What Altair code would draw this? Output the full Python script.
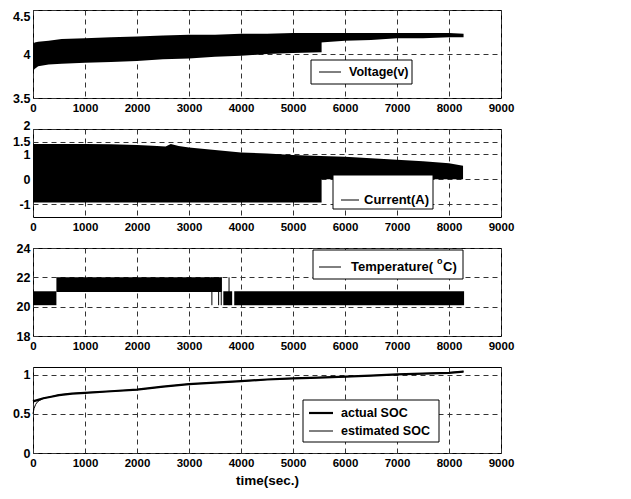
import altair as alt
import pandas as pd

# ---------------- data ----------------
# Voltage envelope (dense oscillation drawn as a band)
v_x1 = [0, 30, 100, 300, 550, 1000, 1500, 2000, 2500, 3000, 3500, 4000, 4500, 5000, 5550]
v_hi1 = [4.10, 4.13, 4.14, 4.15, 4.17, 4.18, 4.19, 4.20, 4.21, 4.22, 4.22, 4.23, 4.23, 4.24, 4.24]
v_lo1 = [3.80, 3.83, 3.86, 3.88, 3.89, 3.90, 3.91, 3.92, 3.94, 3.95, 3.97, 3.98, 4.00, 4.01, 4.02]
v_x2 = [5530, 6000, 6500, 7000, 7500, 8000, 8280]
v_hi2 = [4.24, 4.24, 4.24, 4.24, 4.24, 4.24, 4.23]
v_lo2 = [4.13, 4.15, 4.16, 4.18, 4.18, 4.19, 4.19]

# Current envelope
c_x1 = [0, 500, 1000, 1500, 2000, 2300, 2550, 2650, 2800, 3000, 3500, 4000, 4500, 5000, 5550]
c_hi1 = [1.40, 1.40, 1.40, 1.39, 1.36, 1.33, 1.30, 1.40, 1.32, 1.26, 1.16, 1.07, 1.03, 0.97, 0.93]
c_lo1 = [-0.92, -0.92, -0.92, -0.92, -0.92, -0.92, -0.92, -0.92, -0.92, -0.92, -0.92, -0.92, -0.92, -0.92, -0.92]
c_x2 = [5530, 6000, 6500, 7000, 7500, 8000, 8270]
c_hi2 = [0.93, 0.90, 0.84, 0.78, 0.72, 0.64, 0.54]
c_lo2 = [0, 0, 0, 0, 0, 0, 0]

# Temperature bands (switching between levels) and isolated spikes
t_start = [0, 450, 3660, 3870]
t_end = [450, 3630, 3830, 8290]
t_lo = [20.1, 21.0, 20.1, 20.1]
t_hi = [21.05, 22.0, 21.05, 21.05]
t_spike_x = [3440, 3570, 3620, 3770]
t_spike_lo = [20.1, 20.1, 20.1, 20.1]
t_spike_hi = [22.0, 22.0, 22.0, 22.0]

# SOC
soc_x = [0, 100, 200, 350, 500, 750, 1000, 1500, 2000, 2500, 3000, 3500, 4000,
         4500, 5000, 5500, 6000, 6500, 7000, 7500, 8000, 8280]
soc_actual = [0.66, 0.68, 0.70, 0.72, 0.74, 0.76, 0.77, 0.79, 0.81, 0.85, 0.88, 0.90, 0.92,
              0.94, 0.955, 0.965, 0.978, 0.99, 1.005, 1.015, 1.025, 1.04]
est_x = [0, 20, 50, 80, 120, 200, 350, 500, 750, 1000, 1500, 2000, 2500, 3000, 3500,
         4000, 4500, 5000, 5500, 6000, 6500, 7000, 7500, 8000, 8280]
soc_est = [0.50, 0.57, 0.62, 0.65, 0.67, 0.70, 0.72, 0.745, 0.76, 0.772, 0.79, 0.81, 0.848,
           0.882, 0.90, 0.918, 0.94, 0.953, 0.966, 0.975, 0.99, 1.003, 1.017, 1.027, 1.045]

x_ticks = [0, 1000, 2000, 3000, 4000, 5000, 6000, 7000, 8000, 9000]

# ---------------- styling ----------------
FONT = "Liberation Sans, Arial, Helvetica, sans-serif"
W = 468
LEG_FS = 12.5

volt = pd.DataFrame({"x": v_x1 + v_x2, "lo": v_lo1 + v_lo2, "hi": v_hi1 + v_hi2,
                     "seg": ["a"] * len(v_x1) + ["b"] * len(v_x2)})
curr = pd.DataFrame({"x": c_x1 + c_x2, "lo": c_lo1 + c_lo2, "hi": c_hi1 + c_hi2,
                     "seg": ["a"] * len(c_x1) + ["b"] * len(c_x2)})
temp = pd.DataFrame({"x": t_start, "x2": t_end, "lo": t_lo, "hi": t_hi})
spikes = pd.DataFrame({"x": t_spike_x, "lo": t_spike_lo, "hi": t_spike_hi})
act = pd.DataFrame({"x": soc_x, "v": soc_actual})
est = pd.DataFrame({"x": est_x, "v": soc_est})

LABEL = "'' + datum.value"


def xenc(field="x", title=None):
    return alt.X(f"{field}:Q", scale=alt.Scale(domain=[0, 9000], nice=False),
                 axis=alt.Axis(values=x_ticks, labelExpr=LABEL, labelFlush=False,
                               grid=True, title=title))


def yenc(field, domain, ticks, top_base=None):
    kw = {}
    if top_base is not None:
        kw["labelBaseline"] = {"condition": {"test": f"datum.value == {ticks[-1]}",
                                             "value": top_base}, "value": "middle"}
    return alt.Y(f"{field}:Q", scale=alt.Scale(domain=domain, nice=False, zero=False),
                 axis=alt.Axis(values=ticks, labelExpr=LABEL, grid=True, title=None, **kw))


one = alt.InlineData(values=[{"k": 0}])


def legend_box(x0, x1, y0, y1):
    return alt.Chart(one).mark_rect(fill="white", stroke="black", strokeWidth=1).encode(
        x=alt.value(x0), x2=alt.value(x1), y=alt.value(y0), y2=alt.value(y1))


def legend_line(x0, x1, y, w=1.0):
    return alt.Chart(one).mark_rule(color="black", strokeWidth=w).encode(
        x=alt.value(x0), x2=alt.value(x1), y=alt.value(y))


def legend_text(x, y, s, fs=LEG_FS):
    return alt.Chart(one).mark_text(align="left", baseline="middle", font=FONT,
                                    fontSize=fs, fontWeight="bold", color="black").encode(
        x=alt.value(x), y=alt.value(y), text=alt.value(s))


# Panel 1: voltage
p1 = alt.layer(
    alt.Chart(volt).mark_area(color="black", opacity=1).encode(
        x=xenc(), y=yenc("lo", [3.5, 4.5], [3.5, 4, 4.5], "top"), y2="hi:Q", detail="seg:N"),
    legend_box(278, 379, 50, 74),
    legend_line(286, 308, 62),
    legend_text(316, 62, "Voltage(v)"),
).properties(width=W, height=88)

# Panel 2: current
p2 = alt.layer(
    alt.Chart(curr).mark_area(color="black", opacity=1).encode(
        x=xenc(), y=yenc("lo", [-1.5, 2], [-1, 0, 1, 1.5, 2], "alphabetic"), y2="hi:Q",
        detail="seg:N"),
    legend_box(300, 400, 46, 80),
    legend_line(308, 326, 71),
    legend_text(331, 71, "Current(A)", 13),
).properties(width=W, height=88)

# Panel 3: temperature
p3 = alt.layer(
    alt.Chart(temp).mark_rect(color="black").encode(
        x=xenc(), x2="x2:Q", y=yenc("lo", [18, 24], [18, 20, 22, 24]), y2="hi:Q"),
    alt.Chart(spikes).mark_rule(color="black", strokeWidth=1).encode(
        x=xenc(), y=yenc("lo", [18, 24], [18, 20, 22, 24]), y2="hi:Q"),
    legend_box(280, 430, 2, 31),
    legend_line(286, 308, 19),
    legend_text(318, 19, "Temperature(", 13),
    legend_text(404, 13, "o", 9),
    legend_text(410, 19, "C)", 13),
).properties(width=W, height=88)

# Panel 4: SOC
p4 = alt.layer(
    alt.Chart(act).mark_line(color="black", strokeWidth=2.2).encode(
        x=xenc(title="time(sec.)"), y=yenc("v", [0, 1.1], [0, 0.5, 1])),
    alt.Chart(est).mark_line(color="black", strokeWidth=1).encode(
        x=xenc(title="time(sec.)"), y=yenc("v", [0, 1.1], [0, 0.5, 1])),
    legend_box(270, 406, 33, 75),
    legend_line(276, 300, 46, 2.2),
    legend_line(276, 300, 64, 1),
    legend_text(308, 46, "actual SOC"),
    legend_text(308, 64, "estimated SOC"),
).properties(width=W, height=86)

chart = alt.vconcat(p1, p2, p3, p4, spacing=31, bounds="flush").properties(
    padding={"left": 4, "top": 1, "right": 10, "bottom": 4},
    background="white",
).configure_axis(
    labelFont=FONT, labelFontWeight="bold", labelColor="black",
    titleFont=FONT, titleFontSize=13.5, titleFontWeight="bold", titleColor="black",
    titlePadding=5, domain=False, ticks=False, labelOverlap=False,
    gridColor="#333333", gridDash=[5, 4], gridWidth=1, gridOpacity=1,
).configure_axisX(
    labelFontSize=11.5, labelPadding=4,
).configure_axisY(
    labelFontSize=12.5, labelPadding=3,
).configure_view(stroke="black", strokeWidth=1)

chart.save("out.html", embed_options={"renderer": "svg", "actions": False})
